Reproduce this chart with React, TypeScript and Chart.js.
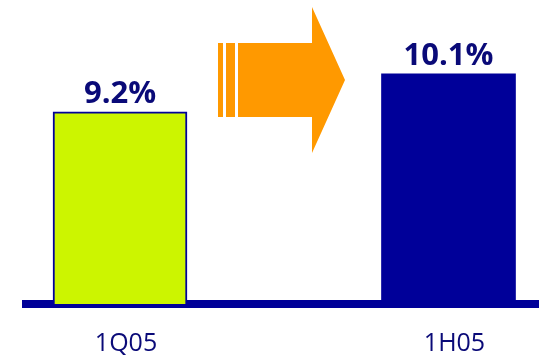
import React, { useEffect, useRef } from "react";
import { Chart, registerables } from "chart.js";

Chart.register(...registerables);

const categories: string[] = ["1Q05", "1H05"];
const values: number[] = [9.2, 10.1];
const barColors: string[] = ["#ccf500", "#000099"];
const borderColors: string[] = ["#000099", "#000099"];
const borderWidths: number[] = [2, 0];

const NAVY = "#000099";
const TEXT_NAVY = "#0a0a78";
const ORANGE = "#ff9900";

const valueLabelPlugin = {
  id: "valueLabels",
  afterDatasetsDraw(chart: any) {
    const ctx = chart.ctx;
    const meta = chart.getDatasetMeta(0);
    ctx.save();
    ctx.fillStyle = TEXT_NAVY;
    ctx.font = "bold 31px 'Open Sans'";
    ctx.textAlign = "center";
    ctx.textBaseline = "alphabetic";
    meta.data.forEach((bar: any, i: number) => {
      ctx.fillText(values[i].toFixed(1) + "%", bar.x, bar.y - 9);
    });
    ctx.restore();
  },
};

const arrowPlugin = {
  id: "arrow",
  afterDraw(chart: any) {
    const ctx = chart.ctx;
    ctx.save();
    ctx.fillStyle = ORANGE;
    ctx.fillRect(218, 43, 5, 74);
    ctx.fillRect(226, 43, 9, 74);
    ctx.beginPath();
    ctx.moveTo(238, 43);
    ctx.lineTo(312, 43);
    ctx.lineTo(312, 7);
    ctx.lineTo(345, 80);
    ctx.lineTo(312, 153);
    ctx.lineTo(312, 117);
    ctx.lineTo(238, 117);
    ctx.closePath();
    ctx.fill();
    ctx.restore();
  },
};

export default function App() {
  const canvasRef = useRef<HTMLCanvasElement | null>(null);

  useEffect(() => {
    document.body.style.margin = "0";
    const canvas = canvasRef.current;
    if (!canvas) return;
    const chart = new Chart(canvas, {
      type: "bar",
      data: {
        datasets: [
          {
            data: values.map((v, i) => ({ x: i, y: v })),
            backgroundColor: barColors,
            borderColor: borderColors,
            borderWidth: borderWidths,
            borderSkipped: "start",
            barThickness: 134,
          } as any,
        ],
      },
      options: {
        animation: false,
        responsive: false,
        maintainAspectRatio: false,
        layout: { padding: { left: 26, right: 0, top: 0, bottom: 0 } },
        plugins: {
          legend: { display: false },
          tooltip: { enabled: false },
        },
        scales: {
          x: {
            type: "linear",
            offset: false,
            bounds: "data",
            min: -0.2862,
            max: 1.2755,
            z: 1,
            grid: {
              offset: false,
              drawOnChartArea: false,
              drawTicks: false,
              color: "rgba(0,0,0,0)",
            },
            border: { display: true, color: NAVY, width: 8 },
            afterBuildTicks: (scale: any) => {
              scale.ticks = categories.map((_, i) => ({ value: i }));
            },
            afterFit: (scale: any) => {
              scale.height = 51;
            },
            ticks: {
              autoSkip: false,
              maxRotation: 0,
              padding: 25,
              labelOffset: 6,
              color: TEXT_NAVY,
              font: { family: "'Open Sans'", size: 25 },
              callback: (v: any) => categories[v as number] ?? "",
            },
          },
          y: {
            display: false,
            min: 4.65,
            max: 11.85,
          },
        },
      },
      plugins: [valueLabelPlugin, arrowPlugin],
    });
    return () => chart.destroy();
  }, []);

  return (
    <div style={{ position: "absolute", left: 0, top: 0, width: 539, height: 355 }}>
      <canvas ref={canvasRef} width={539} height={355} />
    </div>
  );
}
